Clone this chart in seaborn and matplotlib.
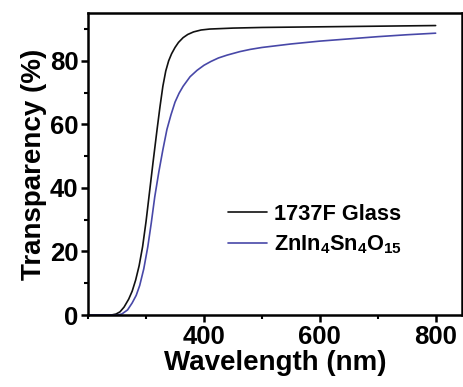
import pandas as pd
import matplotlib
matplotlib.use("Agg")
import matplotlib.pyplot as plt
from matplotlib.ticker import MultipleLocator
import seaborn as sns

# values
glass_wl = [200, 240, 248, 255, 262, 270, 276, 282, 288, 294, 300, 305, 312, 319, 324, 329,
            334, 339, 344, 350, 356, 364, 372, 382, 395, 410, 450, 500, 550, 600, 650, 700, 750, 800]
glass_T = [0, 0, 0.3, 1.0, 2.5, 5.0, 7.5, 11, 15.5, 21.5, 29.5, 37.2, 48, 58.4, 65.5, 72,
           76.8, 80.0, 82.2, 84.2, 85.8, 87.3, 88.3, 89.1, 89.7, 90.0, 90.3, 90.5, 90.6, 90.7,
           90.8, 90.9, 91.0, 91.1]

zits_wl = [200, 250, 258, 268, 276, 283, 289, 296, 303, 309, 315, 322, 329, 336, 343, 350,
           357, 364, 376, 388, 400, 412, 425, 440, 462, 480, 500, 550, 600, 650, 700, 750, 800]
zits_T = [0, 0, 0.3, 1.6, 3.8, 6.2, 9.3, 14.5, 21.5, 29, 37.2, 45, 52, 58.4, 63, 67,
          69.8, 72, 75, 77, 78.6, 79.8, 80.9, 81.8, 82.9, 83.6, 84.2, 85.3, 86.2, 86.9,
          87.6, 88.2, 88.7]

labels = ["1737F Glass", "ZnIn$_4$Sn$_4$O$_{15}$"]
colors = ["#111111", "#4848a8"]

df = pd.concat([
    pd.DataFrame({"wl": glass_wl, "T": glass_T, "sample": labels[0]}),
    pd.DataFrame({"wl": zits_wl, "T": zits_T, "sample": labels[1]}),
])

sns.set_style("ticks")
plt.rcParams["font.family"] = ["Liberation Sans", "DejaVu Sans"]
plt.rcParams["font.weight"] = "bold"
plt.rcParams["mathtext.fontset"] = "custom"
plt.rcParams["mathtext.rm"] = "Liberation Sans:bold"
plt.rcParams["mathtext.bf"] = "Liberation Sans:bold"
plt.rcParams["mathtext.default"] = "bf"
for key in ["text.color", "axes.labelcolor", "axes.edgecolor", "xtick.color", "ytick.color"]:
    plt.rcParams[key] = "black"

fig = plt.figure(figsize=(4.64, 3.87), dpi=100)
ax = fig.add_axes([0.19, 0.186, 0.805, 0.78])

sns.lineplot(data=df, x="wl", y="T", hue="sample", palette=colors,
             linewidth=1.2, ax=ax, sort=False, estimator=None)

ax.set_xlim(200, 845)
ax.set_ylim(0, 95)
ax.xaxis.set_major_locator(MultipleLocator(200))
ax.xaxis.set_minor_locator(MultipleLocator(100))
ax.yaxis.set_major_locator(MultipleLocator(20))
ax.yaxis.set_minor_locator(MultipleLocator(10))
ax.set_xticks([400, 600, 800])

for s in ax.spines.values():
    s.set_linewidth(1.8)
    s.set_visible(True)
ax.tick_params(which="major", direction="out", length=5, width=1.8, labelsize=18.5, pad=2)
ax.tick_params(which="minor", direction="out", length=3, width=1.5)

ax.set_xlabel("Wavelength (nm)", fontsize=20, fontweight="bold", labelpad=1)
ax.set_ylabel("Transparency (%)", fontsize=20, fontweight="bold", labelpad=2)

handles, _ = ax.get_legend_handles_labels()
ax.legend(handles=handles, labels=labels, loc="center left", bbox_to_anchor=(0.375, 0.282),
          frameon=False, fontsize=15.7, handlelength=1.8, handletextpad=0.3,
          labelspacing=0.38, borderpad=0, borderaxespad=0)

fig.savefig("out.png", dpi=100)
